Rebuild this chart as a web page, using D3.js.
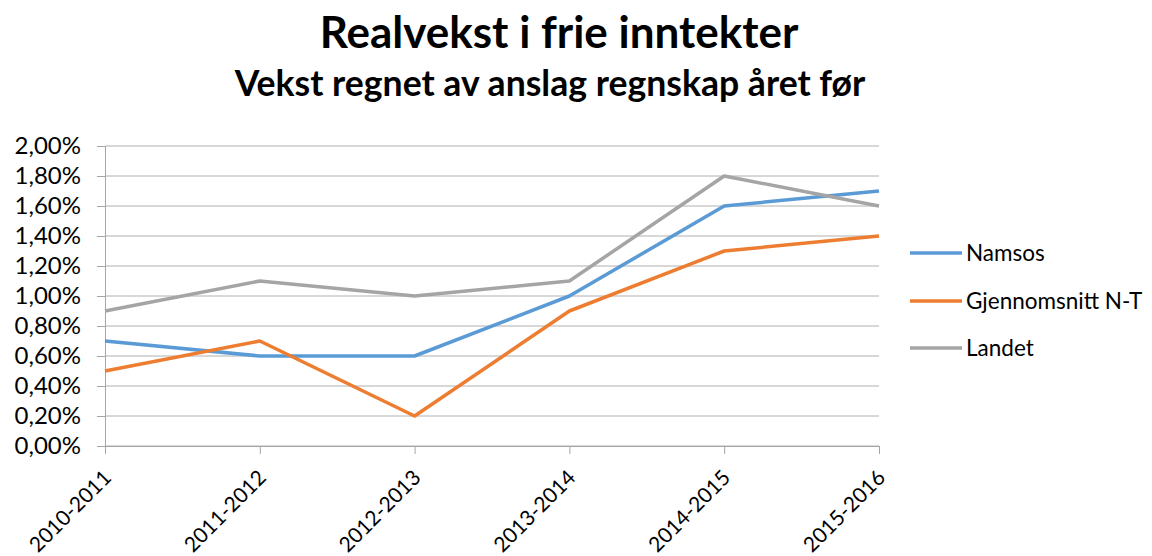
<!DOCTYPE html>
<html><head><meta charset="utf-8">
<script src="https://cdn.jsdelivr.net/npm/d3@7"></script>
<style>body{margin:0;background:#fff;} svg{display:block;font-family:Lato, "Open Sans", sans-serif;}</style>
</head><body>
<svg id="c" width="1152" height="556"></svg>
<script>
const categories = ["2010-2011","2011-2012","2012-2013","2013-2014","2014-2015","2015-2016"];
const namsos = [0.7,0.6,0.6,1.0,1.6,1.7];
const gjennomsnitt = [0.5,0.7,0.2,0.9,1.3,1.4];
const landet = [0.9,1.1,1.0,1.1,1.8,1.6];
const yTicks = [0,0.2,0.4,0.6,0.8,1.0,1.2,1.4,1.6,1.8,2.0];
const seriesNames = ["Namsos","Gjennomsnitt N-T","Landet"];
const colors = ["#5B9BD5","#ED7D31","#A5A5A5"];

const svg = d3.select("#c");
const x = d3.scalePoint().domain(categories).range([105,879]);
const y = d3.scaleLinear().domain([0,2]).range([446,146]);

svg.append("text").attr("x",559).attr("y",48).attr("text-anchor","middle")
  .attr("font-weight","bold").attr("font-size",44).text("Realvekst i frie inntekter");
svg.append("text").attr("x",550).attr("y",96).attr("text-anchor","middle")
  .attr("font-weight","bold").attr("font-size",35.6).text("Vekst regnet av anslag regnskap året før");

// gridlines
svg.append("g").selectAll("line").data(yTicks).join("line")
  .attr("x1",105).attr("x2",879).attr("y1",d=>y(d)).attr("y2",d=>y(d))
  .attr("stroke","#b0b0b0").attr("stroke-width",1);

const fmt = d => d.toFixed(2).replace(".",",") + "%";
const ya = svg.append("g").attr("transform","translate(105,0)")
  .call(d3.axisLeft(y).tickValues(yTicks).tickFormat(fmt).tickSize(8).tickPadding(16));
ya.select(".domain").attr("stroke","#a6a6a6");
ya.selectAll(".tick line").attr("stroke","#a6a6a6");
ya.selectAll("text").attr("font-size",24).attr("fill","#000").attr("font-family","Lato, sans-serif");

const xa = svg.append("g").attr("transform","translate(0,446)")
  .call(d3.axisBottom(x).tickSize(8).tickSizeOuter(0));
xa.select(".domain").attr("stroke","#a6a6a6");
xa.selectAll(".tick line").attr("stroke","#a6a6a6");
xa.selectAll("text").attr("font-size",21).attr("fill","#000").attr("font-family","Lato, sans-serif")
  .attr("text-anchor","end").attr("dy",0).attr("y",0)
  .attr("transform","translate(7,33) rotate(-45)");

const all = [namsos,gjennomsnitt,landet];
const line = d3.line().x((d,i)=>x(categories[i])).y(d=>y(d));
all.forEach((s,k)=>{
  svg.append("path").attr("d",line(s)).attr("fill","none")
    .attr("stroke",colors[k]).attr("stroke-width",3.5).attr("stroke-linejoin","round");
});

const legY = [253,301,348];
seriesNames.forEach((n,k)=>{
  svg.append("line").attr("x1",910).attr("x2",962).attr("y1",legY[k]).attr("y2",legY[k])
    .attr("stroke",colors[k]).attr("stroke-width",3.5);
  svg.append("text").attr("x",966).attr("y",legY[k]+8).attr("font-size",22.5).text(n);
});
</script>
</body></html>
